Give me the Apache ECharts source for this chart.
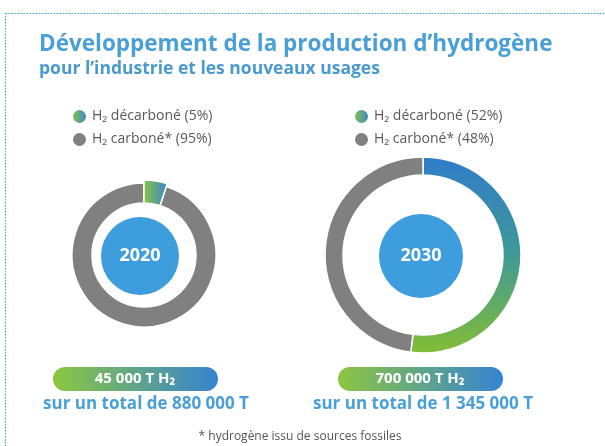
<!DOCTYPE html>
<html>
<head>
<meta charset="utf-8">
<script src="https://cdn.jsdelivr.net/npm/echarts@6/dist/echarts.min.js"></script>
<style>
  html, body { margin: 0; padding: 0; background: #fff; }
  #main { width: 605px; height: 446px; }
</style>
</head>
<body>
<div id="main"></div>
<script>
var dom = document.getElementById('main');
var myChart = echarts.init(dom, null, { renderer: 'canvas' });

// données
var years = ['2020', '2030'];
var decarbone = [5, 52];      // % H2 décarboné
var carbone = [95, 48];       // % H2 carboné
var production = ['45 000', '700 000'];
var totals = ['880 000', '1 345 000'];

var font = '"Open Sans", "Noto Sans", sans-serif';
var grey = '#808080';
var blue = '#3d9ddd';
var titleBlue = '#4aa0d6';

function greenBlueH() {
    return new echarts.graphic.LinearGradient(0, 0, 1, 0, [
        { offset: 0, color: '#8cc63f' },
        { offset: 1, color: '#3584d2' }
    ]);
}
function blueGreenV() {
    return new echarts.graphic.LinearGradient(0, 0, 0, 1, [
        { offset: 0, color: '#2f7ccc' },
        { offset: 0.5, color: '#3f9a95' },
        { offset: 1, color: '#84bd34' }
    ]);
}

var nameDec = years.map(function (y, i) { return 'H\u2082 décarboné (' + decarbone[i] + '%)'; });
var nameCar = years.map(function (y, i) { return 'H\u2082 carboné* (' + carbone[i] + '%)'; });

var centers = [[144, 255], [423, 255]];
var radii = [[52, 72], [80, 98]];
var circleR = [39, 42];
var circleC = [[140, 256], [421, 256]];
var pillX = [53, 338];
var textX = [146, 423];

var series = [];
years.forEach(function (y, i) {
    var decColor = i === 0 ? greenBlueH() : blueGreenV();
    series.push({
        name: y,
        type: 'pie',
        center: centers[i],
        radius: radii[i],
        startAngle: 90,
        label: { show: false },
        labelLine: { show: false },
        itemStyle: { borderColor: '#fff', borderWidth: 1.5 },
        data: [
            { name: nameDec[i], value: decarbone[i], itemStyle: { color: decColor } },
            { name: nameCar[i], value: carbone[i], itemStyle: { color: grey } }
        ]
    });
});
// petit segment 2020 qui dépasse légèrement
series.push({
    name: years[0] + '-accent',
    type: 'pie',
    center: centers[0],
    radius: [radii[0][0], radii[0][1] + 3],
    startAngle: 90,
    silent: true,
    label: { show: false },
    labelLine: { show: false },
    itemStyle: { borderColor: '#fff', borderWidth: 1.5 },
    data: [
        { name: nameDec[0], value: decarbone[0], itemStyle: { color: greenBlueH() } },
        { name: nameCar[0], value: carbone[0], itemStyle: { color: 'rgba(0,0,0,0)', borderWidth: 0 } }
    ]
});

var legends = years.map(function (y, i) {
    return {
        orient: 'vertical',
        left: i === 0 ? 66 : 348,
        top: 103,
        icon: 'circle',
        itemWidth: 15,
        itemHeight: 15,
        itemGap: 6,
        selectedMode: false,
        textStyle: { color: '#5a5a5a', fontSize: 14, fontFamily: font, padding: [0, 0, 0, 0] },
        data: [
            { name: nameDec[i], itemStyle: { color: greenBlueH() } },
            { name: nameCar[i], itemStyle: { color: grey } }
        ]
    };
});

var graphics = [
    {
        type: 'rect',
        shape: { x: 5.5, y: 13.5, width: 640, height: 460 },
        style: { fill: 'none', stroke: '#22aee8', lineWidth: 1, lineDash: [1.5, 1.5] },
        silent: true
    }
];
years.forEach(function (y, i) {
    graphics.push({
        type: 'circle',
        shape: { cx: circleC[i][0], cy: circleC[i][1], r: circleR[i] },
        style: { fill: blue },
        silent: true
    });
    graphics.push({
        type: 'text',
        x: circleC[i][0], y: circleC[i][1],
        style: {
            text: y, fill: '#fff', font: 'bold 18px ' + font,
            align: 'center', verticalAlign: 'middle'
        },
        silent: true
    });
    graphics.push({
        type: 'rect',
        shape: { x: pillX[i], y: 367, width: 165, height: 24, r: 12 },
        style: { fill: greenBlueH() },
        silent: true
    });
    graphics.push({
        type: 'text',
        x: pillX[i] + 82, y: 379,
        style: {
            text: production[i] + ' T H\u2082', fill: '#fff', font: 'bold 15px ' + font,
            align: 'center', verticalAlign: 'middle'
        },
        silent: true
    });
    graphics.push({
        type: 'text',
        x: textX[i], y: 404,
        style: {
            text: 'sur un total de ' + totals[i] + ' T', fill: titleBlue, font: 'bold 17px ' + font,
            align: 'center', verticalAlign: 'middle'
        },
        silent: true
    });
});
graphics.push({
    type: 'text',
    x: 300, y: 437,
    style: {
        text: '* hydrogène issu de sources fossiles', fill: '#555', font: '12px ' + font,
        align: 'center', verticalAlign: 'middle'
    },
    silent: true
});

var option = {
    animation: false,
    title: {
        text: 'Développement de la production d\u2019hydrogène',
        subtext: 'pour l\u2019industrie et les nouveaux usages',
        left: 39,
        top: 31,
        padding: 0,
        itemGap: 1,
        textStyle: { color: titleBlue, fontSize: 22.5, fontWeight: 'bold', fontFamily: font, lineHeight: 27 },
        subtextStyle: { color: '#4a9acf', fontSize: 17.5, fontWeight: 'bold', fontFamily: font, lineHeight: 21 }
    },
    legend: legends,
    series: series,
    graphic: graphics
};

if (option && typeof option === 'object') {
    myChart.setOption(option);
}
window.addEventListener('resize', myChart.resize);
</script>
</body>
</html>
